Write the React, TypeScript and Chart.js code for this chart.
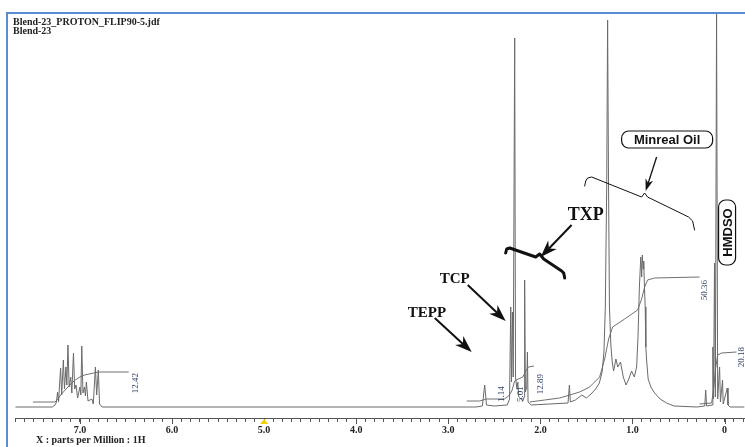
import React, { useEffect, useRef } from "react";
import { Chart, registerables } from "chart.js";
Chart.register(...registerables);

const SERIF = '"Liberation Serif", "DejaVu Serif", serif';
const SANS = '"Liberation Sans", Arial, sans-serif';

// ---- 1H NMR spectrum (ppm, relative intensity) ----
const specPpm = [
  7.70, 7.30, 7.27, 7.255, 7.243, 7.232, 7.21, 7.198, 7.18, 7.168, 7.152, 7.142, 7.13, 7.117, 7.10, 7.088,
  7.07, 7.057, 7.042, 7.025, 7.00, 6.99, 6.98, 6.967, 6.95, 6.94, 6.93, 6.912, 6.87, 6.855, 6.832, 6.818,
  6.80, 6.787, 6.76,
  2.70, 2.63, 2.605, 2.585, 2.50, 2.36, 2.335, 2.322, 2.314, 2.304, 2.295, 2.279, 2.27, 2.255, 2.245, 2.235,
  2.19, 2.178, 2.171, 2.163, 2.148, 2.141, 2.134, 2.10, 1.90, 1.70, 1.685, 1.675, 1.62, 1.55, 1.50, 1.45,
  1.40, 1.36, 1.33, 1.31, 1.295, 1.28, 1.27, 1.26, 1.25, 1.235, 1.22, 1.205, 1.18, 1.16, 1.13, 1.10, 1.07,
  1.04, 1.01, 0.98, 0.955, 0.94, 0.925, 0.91, 0.90, 0.893, 0.885, 0.878, 0.87, 0.862, 0.855, 0.845, 0.83,
  0.80, 0.76, 0.70, 0.63, 0.55, 0.30, 0.215, 0.205, 0.195, 0.135, 0.127, 0.12, 0.109, 0.10, 0.087, 0.075,
  0.054, 0.045, 0.022, 0.015, -0.029, -0.037, -0.06, -0.217,
];
const specInt = [
  0, 0, 2, 5, 15, 5, 39, 12, 47, 18, 40, 22, 62, 20, 30, 14,
  54, 18, 22, 9, 20, 12, 61, 14, 20, 11, 25, 6, 8, 3, 40, 12,
  37, 3, 0,
  0, 1, 22, 2, 1, 2, 8, 100, 25, 95, 30, 369, 30, 18, 25, 10,
  6, 10, 127, 15, 20, 55, 5, 2, 3, 4, 22, 5, 7, 12, 9, 13,
  18, 24, 35, 55, 100, 220, 387, 220, 100, 62, 45, 36, 48, 40, 45, 30, 22,
  28, 36, 30, 40, 70, 120, 150, 130, 152, 138, 146, 120, 100, 60, 45, 28,
  20, 14, 8, 4, 1, 0, 1, 17, 1, 2, 60, 8, 144, 10, 394, 8,
  40, 5, 27, 3, 19, 2, 0, 0,
];

// ---- integral curves ----
const integAromPpm = [7.51, 7.27, 7.24, 7.20, 7.15, 7.10, 7.05, 7.00, 6.95, 6.90, 6.85, 6.80, 6.47];
const integAromVal = [5, 5, 8, 13, 18, 23, 27, 30, 32, 33, 34, 35, 35];

const integPhosPpm = [2.80, 2.66, 2.62, 2.59, 2.39, 2.345, 2.31, 2.28, 2.24, 2.19, 2.16, 2.13, 2.07];
const integPhosVal = [6, 6, 7, 8, 8, 11, 16, 26, 28, 30, 36, 40, 41];

const integOilPpm = [2.116, 1.954, 1.791, 1.682, 1.574, 1.465, 1.357, 1.302, 1.259, 1.216, 1.085, 0.944, 0.901, 0.868, 0.836, 0.76, 0.271];
const integOilVal = [5, 7, 9, 12, 15, 20, 30, 48, 68, 80, 88, 97, 108, 120, 127, 129, 130];

const integHmPpm = [0.271, 0.141, 0.119, 0.098, 0.076, 0.033, -0.13];
const integHmVal = [3, 4, 18, 38, 52, 54, 55];

// integral values printed vertically
const integLabels = ["12.42", "1.14", "5.01", "12.89", "50.36", "20.18"];
const integLabelPpm = [6.392, 2.42, 2.214, 1.997, 0.217, -0.185];
const integLabelInt = [24, 13, 13, 23, 117, 50];

// x axis
const majorTicks = [0, 1, 2, 3, 4, 5, 6, 7];

const pts = (xs: number[], ys: number[]) => xs.map((x, i) => ({ x, y: ys[i] }));

const annotPlugin = {
  id: "nmrAnnotations",
  afterDraw(chart: any) {
    const { ctx, scales, chartArea } = chart;
    const xs = scales.x;
    const ys = scales.y;
    const X = (v: number) => xs.getPixelForValue(v);
    const Y = (v: number) => ys.getPixelForValue(v);
    ctx.save();

    // frame
    ctx.strokeStyle = "#5b8bd0";
    ctx.lineWidth = 2;
    ctx.beginPath();
    ctx.moveTo(7, 447);
    ctx.lineTo(7, 13);
    ctx.lineTo(745, 13);
    ctx.stroke();

    // major ticks (longer)
    ctx.strokeStyle = "#555";
    ctx.lineWidth = 1;
    ctx.beginPath();
    majorTicks.forEach((m) => {
      const px = Math.round(X(m)) + 0.5;
      ctx.moveTo(px, chartArea.bottom);
      ctx.lineTo(px, chartArea.bottom + 6);
    });
    ctx.stroke();

    // yellow cursor marker at 5.0
    ctx.fillStyle = "#f2d100";
    const mx = X(5);
    ctx.beginPath();
    ctx.moveTo(mx, chartArea.bottom + 1);
    ctx.lineTo(mx - 4, chartArea.bottom + 6);
    ctx.lineTo(mx + 4, chartArea.bottom + 6);
    ctx.closePath();
    ctx.fill();

    // title lines
    ctx.fillStyle = "#222";
    ctx.font = `bold 10px ${SERIF}`;
    ctx.textAlign = "left";
    ctx.textBaseline = "alphabetic";
    ctx.fillText("Blend-23_PROTON_FLIP90-5.jdf", 13, 25);
    ctx.fillText("Blend-23", 13, 34);
    // axis title
    ctx.fillText("X : parts per Million : 1H", 36, 443);

    // integral values (vertical)
    ctx.fillStyle = "#2d3f66";
    ctx.font = `9px ${SERIF}`;
    ctx.textAlign = "center";
    ctx.textBaseline = "middle";
    integLabels.forEach((t, i) => {
      ctx.save();
      ctx.translate(X(integLabelPpm[i]), Y(integLabelInt[i]));
      ctx.rotate(-Math.PI / 2);
      ctx.fillText(t, 0, 0);
      ctx.restore();
    });

    // compound labels
    ctx.fillStyle = "#111";
    ctx.textAlign = "left";
    ctx.textBaseline = "alphabetic";
    const labels = [
      { t: "TEPP", p: 3.44, h: 90, s: 15 },
      { t: "TCP", p: 3.093, h: 124, s: 15 },
      { t: "TXP", p: 1.704, h: 187, s: 18 },
    ];
    labels.forEach((l) => {
      ctx.font = `bold ${l.s}px ${SERIF}`;
      ctx.fillText(l.t, X(l.p), Y(l.h));
    });

    // arrows
    const arrow = (a: number[], b: number[], lw: number, hl: number, hw: number) => {
      const x1 = X(a[0]), y1 = Y(a[1]), x2 = X(b[0]), y2 = Y(b[1]);
      const ang = Math.atan2(y2 - y1, x2 - x1);
      const c = Math.cos(ang), s = Math.sin(ang);
      ctx.strokeStyle = "#111";
      ctx.fillStyle = "#111";
      ctx.lineWidth = lw;
      ctx.beginPath();
      ctx.moveTo(x1, y1);
      ctx.lineTo(x2 - c * hl * 0.7, y2 - s * hl * 0.7);
      ctx.stroke();
      ctx.beginPath();
      ctx.moveTo(x2, y2);
      ctx.lineTo(x2 - c * hl - s * hw / 2, y2 - s * hl + c * hw / 2);
      ctx.lineTo(x2 - c * hl * 0.7, y2 - s * hl * 0.7);
      ctx.lineTo(x2 - c * hl + s * hw / 2, y2 - s * hl - c * hw / 2);
      ctx.closePath();
      ctx.fill();
    };
    arrow([3.147, 89], [2.746, 55], 2, 17, 12);
    arrow([2.789, 122], [2.377, 86], 2, 17, 12);
    arrow([1.661, 182], [1.997, 150], 2, 17, 12);
    arrow([0.738, 250], [0.857, 216], 1.3, 12, 8);

    // braces
    const brace = (p: number[][], lw: number) => {
      ctx.strokeStyle = "#111";
      ctx.lineWidth = lw;
      ctx.lineJoin = "round";
      ctx.lineCap = "round";
      ctx.beginPath();
      p.forEach((q, i) => {
        const px = X(q[0]), py = Y(q[1]);
        if (i === 0) ctx.moveTo(px, py);
        else ctx.lineTo(px, py);
      });
      ctx.stroke();
    };
    brace([[2.377, 154], [2.366, 158], [2.333, 159], [2.051, 150], [2.008, 153], [1.964, 148], [1.769, 136], [1.747, 134], [1.736, 129]], 3);
    brace([[1.519, 221], [1.508, 226], [1.487, 229], [1.443, 230], [0.901, 210], [0.868, 214], [0.836, 210], [0.391, 190], [0.347, 186], [0.326, 177]], 1);

    // boxed labels
    const box = (cx: number, cy: number, w: number, h: number, text: string, vertical: boolean) => {
      const r = 7;
      const x0 = cx - w / 2, y0 = cy - h / 2;
      ctx.beginPath();
      ctx.moveTo(x0 + r, y0);
      ctx.arcTo(x0 + w, y0, x0 + w, y0 + h, r);
      ctx.arcTo(x0 + w, y0 + h, x0, y0 + h, r);
      ctx.arcTo(x0, y0 + h, x0, y0, r);
      ctx.arcTo(x0, y0, x0 + w, y0, r);
      ctx.closePath();
      ctx.fillStyle = "#fff";
      ctx.fill();
      ctx.strokeStyle = "#111";
      ctx.lineWidth = 1.2;
      ctx.stroke();
      ctx.fillStyle = "#111";
      ctx.font = `bold 13px ${SANS}`;
      ctx.textAlign = "center";
      ctx.textBaseline = "middle";
      ctx.save();
      ctx.translate(cx, cy + (vertical ? 0 : 1));
      if (vertical) ctx.rotate(-Math.PI / 2);
      ctx.fillText(text, 0, vertical ? 1 : 0);
      ctx.restore();
    };
    box(X(0.624), Y(267.5), 91, 17, "Minreal Oil", false);
    box(X(-0.027), Y(174.5), 17, 65, "HMDSO", true);

    ctx.restore();
  },
};

export default function App() {
  const ref = useRef<HTMLCanvasElement>(null);
  useEffect(() => {
    const canvas = ref.current;
    if (!canvas) return;
    const lineStyle = { borderColor: "#6a6a6a", borderWidth: 1, pointRadius: 0, tension: 0, fill: false };
    const chart = new Chart(canvas, {
      type: "line",
      data: {
        datasets: [
          { label: "spectrum", data: pts(specPpm, specInt), ...lineStyle },
          { label: "integral aromatic", data: pts(integAromPpm, integAromVal), ...lineStyle, borderColor: "#707070" },
          { label: "integral phosphates", data: pts(integPhosPpm, integPhosVal), ...lineStyle, borderColor: "#707070" },
          { label: "integral mineral oil", data: pts(integOilPpm, integOilVal), ...lineStyle, borderColor: "#707070" },
          { label: "integral HMDSO", data: pts(integHmPpm, integHmVal), ...lineStyle, borderColor: "#707070" },
        ],
      },
      options: {
        responsive: false,
        animation: false,
        devicePixelRatio: 1,
        layout: { padding: { left: 15, right: 0, top: 13, bottom: 0 } },
        plugins: { legend: { display: false }, tooltip: { enabled: false } },
        scales: {
          x: {
            type: "linear",
            reverse: true,
            min: -0.217,
            max: 7.705,
            position: "bottom",
            afterFit: (s: any) => {
              s.height = 29;
            },
            grid: { drawOnChartArea: false, drawTicks: true, tickLength: 4, color: "#555", lineWidth: 1 },
            border: { display: true, color: "#555", width: 1 },
            ticks: {
              stepSize: 0.1,
              autoSkip: false,
              includeBounds: false,
              maxRotation: 0,
              minRotation: 0,
              padding: 2,
              color: "#222",
              font: { family: SERIF, size: 10, weight: "bold" },
              callback: (v: any) => {
                const n = Number(v);
                const r = Math.round(n);
                if (Math.abs(n - r) < 1e-6) return r === 0 ? "0" : r.toFixed(1);
                return "";
              },
            },
          },
          y: { type: "linear", display: false, min: -11, max: 394 },
        },
      } as any,
      plugins: [annotPlugin],
    });
    return () => chart.destroy();
  }, []);
  return (
    <div style={{ position: "fixed", left: 0, top: 0, width: 745, height: 447, background: "#fff" }}>
      <canvas ref={ref} width={745} height={447} style={{ display: "block", width: 745, height: 447 }} />
    </div>
  );
}
